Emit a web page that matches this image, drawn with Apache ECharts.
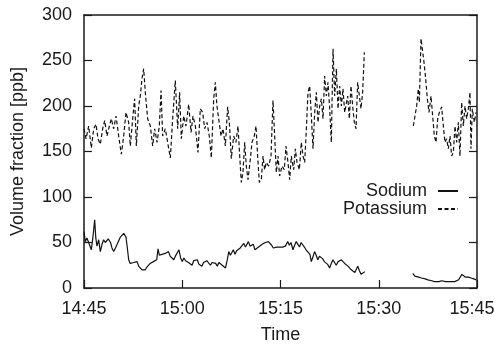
<!DOCTYPE html>
<html>
<head>
<meta charset="utf-8">
<script src="https://cdn.jsdelivr.net/npm/echarts@6/dist/echarts.min.js"></script>
<style>
  html, body { margin: 0; padding: 0; background: #fff; }
  #chart { width: 495px; height: 346px; }
</style>
</head>
<body>
<div id="chart"></div>
<script>
// minutes after 14:45, null = no data (gap)
const tickLabels = ['14:45', '15:00', '15:15', '15:30', '15:45']

const sodiumMin = [0, 0.2, 0.45, 0.71, 0.9, 1.12, 1.35, 1.63, 1.8, 1.98, 2.24, 2.49, 2.75, 3.0, 3.25, 3.5, 3.7, 3.87, 4.05, 4.27, 4.53, 4.8, 5.04, 5.3, 5.55, 5.8, 6.06, 6.25, 6.41, 6.6, 6.82, 7.05, 7.33, 7.6, 7.85, 8.1, 8.35, 8.6, 8.85, 9.1, 9.36, 9.6, 9.87, 10.1, 10.35, 10.6, 10.85, 11.1, 11.3, 11.5, 11.7, 11.9, 12.15, 12.4, 12.65, 12.9, 13.15, 13.45, 13.7, 13.95, 14.2, 14.5, 14.75, 15.0, 15.25, 15.5, 15.7, 15.95, 16.2, 16.5, 16.75, 17.0, 17.3, 17.55, 17.8, 18.0, 18.25, 18.5, 18.75, 19.0, 19.3, 19.55, 19.8, 20.1, 20.35, 20.6, 20.85, 21.1, 21.35, 21.6, 21.85, 22.1, 22.35, 22.6, 22.8, 23.05, 23.3, 23.6, 23.85, 24.1, 24.4, 24.65, 24.9, 25.1, 25.35, 25.6, 25.85, 26.1, 26.4, 26.65, 26.9, 27.2, 27.45, 27.7, 27.9, 28.15, 28.4, 28.65, 28.9, 29.2, 29.45, 29.7, 30.0, 30.4, 30.75, 31.1, 31.35, 31.6, 31.9, 32.15, 32.4, 32.65, 32.9, 33.15, 33.4, 33.65, 33.9, 34.2, 34.5, 34.7, 34.95, 35.2, 35.45, 35.7, 35.95, 36.2, 36.45, 36.7, 36.95, 37.2, 37.5, 37.75, 38.0, 38.25, 38.5, 38.8, 39.05, 39.3, 39.55, 39.8, 40.05, 40.3, 40.55, 40.8, 41.05, 41.35, 41.6, 41.8, 42.05, 42.3, 42.6, 42.9, 46.5, 50.2, 50.5, 50.8, 51.1, 51.5, 51.8, 52.1, 52.5, 52.8, 53.1, 53.5, 53.8, 54.2, 54.6, 54.9, 55.2, 55.6, 55.9, 56.2, 56.6, 56.9, 57.2, 57.5, 57.7, 57.9, 58.2, 58.4, 58.7, 59.1, 59.5, 59.9]
const sodiumPpb = [62, 51, 55, 50, 48, 42, 55, 75, 55, 46, 53, 40, 48, 53, 50, 49, 54, 55, 50, 44, 40, 44, 46, 52, 56, 55, 60, 58, 56, 45, 31, 27, 25, 28, 26, 29, 24, 22, 20, 19, 20, 23, 25, 27, 26, 29, 28, 31, 43, 36, 38, 37, 35, 38, 36, 40, 35, 33, 31, 35, 33, 42, 33, 29, 33, 30, 31, 28, 27, 25, 30, 28, 31, 26, 27, 24, 28, 26, 30, 29, 25, 28, 26, 27, 24, 28, 26, 25, 24, 22, 30, 40, 36, 38, 42, 37, 41, 40, 44, 42, 49, 45, 47, 51, 46, 44, 48, 42, 40, 45, 44, 48, 46, 50, 49, 51, 53, 47, 44, 42, 45, 46, 45, 45, 46, 51, 47, 50, 42, 47, 51, 48, 45, 50, 49, 45, 42, 40, 37, 29, 34, 40, 36, 31, 35, 35, 32, 29, 31, 26, 22, 27, 31, 28, 25, 29, 28, 31, 29, 27, 25, 24, 22, 20, 19, 17, 16, 24, 19, 15, 17, 18, null, 16, 13, 13, 12, 11, 11, 10, 9, 9, 8, 7, 8, 7, 8, 7, 7, 7, 8, 7, 7, 8, 9, 9, 15, 13, 12, 11, 12, 11, 10, 9]

const potassiumMin = [0, 0.31, 0.71, 1.12, 1.48, 1.83, 2.14, 2.49, 2.85, 3.16, 3.51, 3.87, 4.17, 4.53, 4.89, 5.29, 5.7, 6.06, 6.41, 6.82, 7.07, 7.43, 7.73, 7.99, 8.35, 8.6, 8.85, 9.11, 9.36, 9.72, 10.13, 10.48, 10.79, 11.15, 11.5, 11.76, 12.01, 12.42, 12.77, 13.18, 13.54, 13.94, 14.3, 14.6, 14.86, 15.22, 15.57, 15.98, 16.34, 16.64, 17.0, 17.4, 17.76, 18.12, 18.42, 18.78, 19.13, 19.44, 19.8, 20.05, 20.3, 20.56, 20.92, 21.22, 21.58, 21.93, 22.19, 22.49, 22.85, 23.2, 23.51, 23.77, 24.02, 24.27, 24.53, 24.78, 25.04, 25.4, 25.65, 26.0, 26.26, 26.51, 26.77, 27.07, 27.33, 27.58, 27.84, 28.19, 28.55, 28.85, 29.11, 29.36, 29.62, 29.87, 30.23, 30.58, 30.84, 31.14, 31.4, 31.65, 32.01, 32.27, 32.52, 32.88, 33.18, 33.44, 33.69, 33.95, 34.2, 34.45, 34.71, 34.96, 35.22, 35.47, 35.73, 35.98, 36.24, 36.49, 36.74, 37.0, 37.25, 37.51, 37.76, 38.02, 38.27, 38.53, 38.78, 39.03, 39.29, 39.54, 39.8, 40.26, 40.51, 40.76, 41.02, 41.27, 41.53, 41.78, 42.04, 42.29, 42.54, 42.8, 46.5, 50.28, 50.53, 50.79, 51.04, 51.2, 51.45, 51.65, 51.91, 52.16, 52.42, 52.67, 52.98, 53.23, 53.49, 53.74, 54.0, 54.25, 54.6, 54.86, 55.11, 55.37, 55.62, 55.88, 56.13, 56.39, 56.64, 56.9, 57.15, 57.4, 57.66, 57.91, 58.17, 58.42, 58.68, 58.93, 59.08, 59.29, 59.59, 59.85]
const potassiumPpb = [175, 164, 178, 154, 175, 180, 164, 158, 175, 184, 167, 178, 186, 175, 189, 167, 147, 167, 193, 182, 156, 186, 208, 156, 200, 211, 230, 241, 215, 186, 178, 156, 175, 160, 178, 217, 167, 175, 160, 143, 186, 228, 175, 215, 164, 189, 178, 202, 171, 189, 178, 149, 197, 193, 175, 182, 167, 143, 208, 226, 200, 186, 167, 175, 156, 199, 182, 142, 167, 160, 178, 145, 116, 127, 160, 134, 119, 142, 160, 167, 178, 145, 116, 119, 145, 130, 138, 134, 145, 206, 167, 127, 145, 123, 134, 130, 156, 138, 119, 145, 130, 153, 138, 130, 160, 145, 138, 175, 215, 222, 189, 153, 193, 215, 182, 200, 208, 186, 233, 211, 226, 197, 160, 263, 211, 241, 197, 222, 200, 219, 193, 211, 186, 222, 200, 182, 175, 226, 211, 197, 215, 259, null, 178, 189, 200, 219, 204, 274, 263, 248, 230, 208, 193, 211, 189, 167, 160, 186, 193, 199, 178, 160, 164, 153, 167, 145, 149, 178, 160, 182, 145, 204, 178, 200, 186, 197, 215, 153, 197, 182, 193]

const toPairs = (xs, ys) => xs.map((x, i) => [x, ys[i] === null ? '-' : ys[i]])

const font = 'Liberation Sans, Arial, Helvetica, sans-serif'
const ink = '#1a1a1a'

const chart = echarts.init(document.getElementById('chart'))

const baseLegend = {
  orient: 'vertical',
  align: 'right',
  right: 31,
  itemWidth: 20,
  itemHeight: 12,
  itemStyle: { opacity: 0 },
  textStyle: { fontFamily: font, fontSize: 18, color: ink, padding: [0, 6, 0, 0] }
}

const frameLine = { show: true, onZero: false, lineStyle: { color: ink, width: 1.5 } }
const inTick = { show: true, inside: true, length: 8, lineStyle: { color: ink, width: 1.2 } }

chart.setOption({
  animation: false,
  backgroundColor: '#fff',
  grid: { left: 84, right: 18, top: 15, bottom: 58, containLabel: false, outerBoundsMode: 'none' },
  legend: [
    Object.assign({}, baseLegend, { top: 177, data: ['Sodium'] }),
    Object.assign({}, baseLegend, { top: 195, data: ['Potassium'] })
  ],
  xAxis: [
    {
      type: 'value',
      min: 0,
      max: 60,
      interval: 15,
      name: 'Time',
      nameLocation: 'middle',
      nameGap: 38,
      nameTextStyle: { fontFamily: font, fontSize: 18, color: ink },
      axisLine: frameLine,
      axisTick: inTick,
      axisLabel: {
        fontFamily: font, fontSize: 18, color: ink, margin: 12,
        // last label sits a bit left so it stays on the page
        formatter: v => {
          const i = Math.round(v / 15)
          return i === tickLabels.length - 1 ? '{last|' + tickLabels[i] + '}' : tickLabels[i]
        },
        rich: { last: { fontFamily: font, fontSize: 18, color: ink, padding: [0, 10, 0, 0] } }
      },
      splitLine: { show: false }
    },
    {
      type: 'value',
      position: 'top',
      min: 0,
      max: 60,
      interval: 15,
      axisLine: frameLine,
      axisTick: { show: false },
      axisLabel: { show: false },
      splitLine: { show: false }
    }
  ],
  yAxis: [
    {
      type: 'value',
      min: 0,
      max: 300,
      interval: 50,
      name: 'Volume fraction [ppb]',
      nameLocation: 'middle',
      nameGap: 57,
      nameTextStyle: { fontFamily: font, fontSize: 18, color: ink },
      axisLine: frameLine,
      axisTick: inTick,
      axisLabel: { fontFamily: font, fontSize: 18, color: ink, margin: 12 },
      splitLine: { show: false }
    },
    {
      type: 'value',
      position: 'right',
      min: 0,
      max: 300,
      interval: 50,
      axisLine: frameLine,
      axisTick: inTick,
      axisLabel: { show: false },
      splitLine: { show: false }
    }
  ],
  series: [
    {
      name: 'Sodium',
      type: 'line',
      data: toPairs(sodiumMin, sodiumPpb),
      showSymbol: false,
      symbol: 'none',
      connectNulls: false,
      color: '#111',
      lineStyle: { color: '#111', width: 1.2 }
    },
    {
      name: 'Potassium',
      type: 'line',
      data: toPairs(potassiumMin, potassiumPpb),
      showSymbol: false,
      symbol: 'none',
      connectNulls: false,
      color: '#111',
      lineStyle: { color: '#111', width: 1.2, type: [4, 2.5] }
    }
  ]
})
</script>
</body>
</html>
